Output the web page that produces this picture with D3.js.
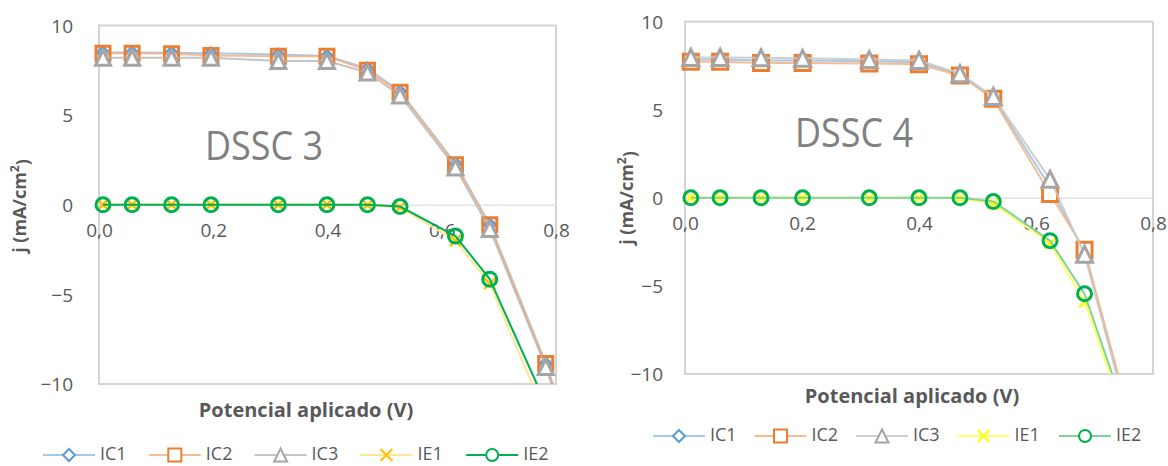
<!DOCTYPE html>
<html>
<head>
<meta charset="utf-8">
<script src="https://cdn.jsdelivr.net/npm/d3@7"></script>
<style>
  html, body { margin: 0; padding: 0; background: #fff; }
  svg { display: block; }
  text { font-family: "Open Sans", "Liberation Sans", sans-serif; }
</style>
</head>
<body>
<svg id="chart" width="1168" height="466"></svg>
<script>
// ---- DSSC 3 : j–V data (potential in V, current density in mA/cm²) ----
const potential3 = [0.007, 0.058, 0.127, 0.196, 0.314, 0.399, 0.470, 0.527, 0.624, 0.684, 0.782, 0.840];
const ic1_3 = [8.50, 8.50, 8.48, 8.45, 8.38, 8.30, 7.60, 6.32, 2.30, -1.10, -8.85, -14.3];
const ic2_3 = [8.45, 8.45, 8.42, 8.32, 8.28, 8.28, 7.50, 6.27, 2.23, -1.12, -8.85, -14.4];
const ic3_3 = [8.20, 8.20, 8.20, 8.20, 8.02, 8.02, 7.38, 6.10, 2.08, -1.35, -9.05, -14.5];
const ie1_3 = [0, 0, 0, 0, 0, 0, -0.02, -0.15, -2.00, -4.40, -11.8];
const ie2_3 = [0, 0, 0, 0, 0, 0, 0, -0.10, -1.75, -4.15, -11.1];

// ---- DSSC 4 ----
const potential4 = [0.010, 0.060, 0.130, 0.201, 0.315, 0.400, 0.470, 0.527, 0.624, 0.683, 0.780];
const ic1_4 = [7.85, 7.85, 7.80, 7.80, 7.75, 7.70, 7.00, 5.70, 0.60, -3.05, -15.2];
const ic2_4 = [7.72, 7.72, 7.65, 7.65, 7.62, 7.58, 6.95, 5.62, 0.22, -2.95, -14.9];
const ic3_4 = [7.97, 7.97, 7.95, 7.92, 7.85, 7.80, 7.05, 5.76, 1.05, -3.20, -15.3];
const ie1_4 = [0, 0, 0, 0, 0, 0, -0.02, -0.34, -2.58, -5.90, -15.0];
const ie2_4 = [0, 0, 0, 0, 0, 0, 0, -0.21, -2.43, -5.45, -14.8];

// ---- axes ----
const xTicks = [0, 0.2, 0.4, 0.6, 0.8];
const yTicks = [10, 5, 0, -5, -10];
const seriesNames = ["IC1", "IC2", "IC3", "IE1", "IE2"];

const fmtX = d => d3.format(".1f")(d).replace(".", ",");

// marker shapes, r = half-size
const shapes = {
  diamond: r => `M0,${-r}L${r},0L0,${r}L${-r},0Z`,
  square: r => `M${-r},${-r}H${r}V${r}H${-r}Z`,
  triangle: r => `M0,${-r}L${r},${r}L${-r},${r}Z`,
  cross: r => `M${-r},${-r}L${r},${r}M${r},${-r}L${-r},${r}`,
  circle: r => `M${r},0A${r},${r} 0 1,1 ${-r},0A${r},${r} 0 1,1 ${r},0`
};

const svg = d3.select("#chart");

function drawChart(cfg) {
  const g = svg.append("g");
  const x = d3.scaleLinear().domain([0, 0.8]).range([cfg.left, cfg.right]);
  const y = d3.scaleLinear().domain([-10, 10]).range([cfg.bottom, cfg.top]);

  const clipId = "clip-" + cfg.id;
  g.append("clipPath").attr("id", clipId)
    .append("rect")
    .attr("x", cfg.left).attr("y", cfg.top)
    .attr("width", cfg.right - cfg.left).attr("height", cfg.bottom - cfg.top);

  // plot area frame
  g.append("rect")
    .attr("x", cfg.left).attr("y", cfg.top)
    .attr("width", cfg.right - cfg.left).attr("height", cfg.bottom - cfg.top)
    .attr("fill", "none").attr("stroke", "#d4d4d4").attr("stroke-width", 2);

  // horizontal axis at j = 0
  const xAxis = d3.axisBottom(x).tickValues(xTicks).tickFormat(fmtX).tickSize(0).tickPadding(19);
  const xa = g.append("g").attr("transform", `translate(0,${y(0)})`).call(xAxis);
  xa.select(".domain").attr("stroke", "#e2e2e2").attr("stroke-width", 1.5);
  xa.selectAll("text").attr("fill", "#595959").style("font-size", "19px")
    .style("font-family", "'Open Sans', sans-serif");

  // vertical axis labels
  const yAxis = d3.axisLeft(y).tickValues(yTicks).tickFormat(d3.format("d")).tickSize(0).tickPadding(cfg.yPad);
  const ya = g.append("g").attr("transform", `translate(${cfg.left},0)`).call(yAxis);
  ya.select(".domain").remove();
  ya.selectAll("text").attr("fill", "#595959").style("font-size", "19px")
    .style("font-family", "'Open Sans', sans-serif").attr("dy", "0.35em");

  // axis titles
  g.append("text")
    .attr("x", cfg.xTitleX).attr("y", cfg.xTitleY)
    .attr("text-anchor", "middle").attr("dominant-baseline", "middle")
    .attr("fill", "#595959").style("font-size", "20px").style("font-weight", "bold")
    .text("Potencial aplicado (V)");

  const yt = g.append("text")
    .attr("transform", `translate(${cfg.yTitleX},${cfg.yTitleY}) rotate(-90)`)
    .attr("text-anchor", "middle").attr("dominant-baseline", "middle")
    .attr("fill", "#595959").style("font-size", "18px").style("font-weight", "bold");
  yt.append("tspan").text("j (mA/cm");
  yt.append("tspan").attr("dy", "-0.45em").style("font-size", "12px").text("2");
  yt.append("tspan").attr("dy", "0.45em").text(")");

  // big panel label
  g.append("text")
    .attr("x", cfg.labelX).attr("y", cfg.labelY)
    .attr("fill", "#808080").style("font-size", "40px")
    .attr("textLength", cfg.labelW).attr("lengthAdjust", "spacingAndGlyphs")
    .text(cfg.label);

  const line = d3.line().x(d => x(d[0])).y(d => y(d[1]));

  cfg.series.forEach(s => {
    const pts = s.values.map((v, i) => [cfg.potential[i], v]);
    g.append("path")
      .attr("clip-path", `url(#${clipId})`)
      .attr("d", line(pts))
      .attr("fill", "none")
      .attr("stroke", s.line).attr("stroke-width", s.lw)
      .attr("stroke-opacity", s.lo);
    g.selectAll(null)
      .data(pts.filter(p => p[1] >= -10 && p[1] <= 10 && p[0] <= 0.8))
      .enter().append("path")
      .attr("transform", p => `translate(${x(p[0])},${y(p[1])})`)
      .attr("d", shapes[s.shape](s.r))
      .attr("fill", s.fill)
      .attr("stroke", s.marker).attr("stroke-width", s.mw);
  });

  // legend
  const lg = g.append("g").attr("transform", `translate(0,${cfg.legendY})`);
  cfg.series.forEach((s, i) => {
    const cx = cfg.legendX0 + i * cfg.legendStep;
    lg.append("line").attr("x1", cx - 26).attr("x2", cx + 26)
      .attr("stroke", s.line).attr("stroke-width", 2).attr("stroke-opacity", s.lo);
    lg.append("path").attr("transform", `translate(${cx},0)`)
      .attr("d", shapes[s.shape](s.legR))
      .attr("fill", s.shape === "cross" ? "none" : "#fff")
      .attr("stroke", s.marker).attr("stroke-width", 2);
    lg.append("text").attr("x", cx + 31).attr("y", 0)
      .attr("dominant-baseline", "middle")
      .attr("fill", "#595959").style("font-size", "18px")
      .text(seriesNames[i]);
  });
}

drawChart({
  id: "d3", label: "DSSC 3", labelX: 205, labelY: 160, labelW: 118,
  left: 99, right: 556, top: 25.5, bottom: 384, yPad: 26,
  xTitleX: 306, xTitleY: 412, yTitleX: 21, yTitleY: 206,
  legendY: 455, legendX0: 69, legendStep: 105.8,
  potential: potential3,
  series: [
    { values: ic1_3, shape: "diamond", r: 6, legR: 6, line: "#9dc3e6", lo: 0.9, lw: 2, marker: "#5b9bd5", fill: "#8db4e2", mw: 2 },
    { values: ic2_3, shape: "square", r: 7, legR: 6.5, line: "#f4b183", lo: 0.85, lw: 2, marker: "#ed7d31", fill: "none", mw: 3 },
    { values: ic3_3, shape: "triangle", r: 7.5, legR: 6.5, line: "#b0b0b0", lo: 0.75, lw: 2, marker: "#a5a5a5", fill: "#fff", mw: 3 },
    { values: ie1_3, shape: "cross", r: 5.5, legR: 6, line: "#ffe699", lo: 1, lw: 2, marker: "#ffc000", fill: "none", mw: 2.5 },
    { values: ie2_3, shape: "circle", r: 7, legR: 6, line: "#00b050", lo: 1, lw: 2, marker: "#00b050", fill: "none", mw: 3 }
  ]
});

drawChart({
  id: "d4", label: "DSSC 4", labelX: 795, labelY: 147, labelW: 118,
  left: 685, right: 1153, top: 21.7, bottom: 374, yPad: 22,
  xTitleX: 912, xTitleY: 398, yTitleX: 628, yTitleY: 198,
  legendY: 436, legendX0: 679, legendStep: 101.5,
  potential: potential4,
  series: [
    { values: ic1_4, shape: "diamond", r: 6, legR: 6, line: "#9dc3e6", lo: 0.9, lw: 2, marker: "#5b9bd5", fill: "#fff", mw: 2 },
    { values: ic2_4, shape: "square", r: 7.5, legR: 6.5, line: "#f4b183", lo: 0.85, lw: 2, marker: "#ed7d31", fill: "#fff", mw: 3 },
    { values: ic3_4, shape: "triangle", r: 8, legR: 6.5, line: "#c9c9c9", lo: 0.9, lw: 2, marker: "#a5a5a5", fill: "#fff", mw: 3 },
    { values: ie1_4, shape: "cross", r: 5.5, legR: 6, line: "#ffff66", lo: 1, lw: 2, marker: "#ffff00", fill: "none", mw: 2.5 },
    { values: ie2_4, shape: "circle", r: 7, legR: 6, line: "#7fd39a", lo: 1, lw: 2, marker: "#00b050", fill: "none", mw: 3 }
  ]
});
</script>
</body>
</html>
